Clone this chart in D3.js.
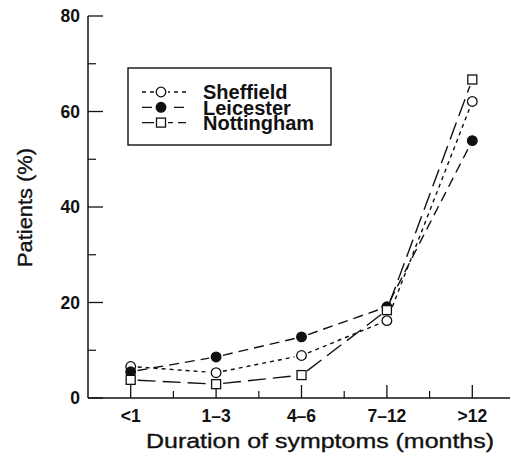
<!DOCTYPE html>
<html>
<head>
<meta charset="utf-8">
<script src="https://cdn.jsdelivr.net/npm/d3@7"></script>
<style>
  body { margin: 0; background: #fff; }
  svg { display: block; font-family: "Liberation Sans", Arial, sans-serif; }
  .tick-label { font-size: 17.5px; font-weight: bold; fill: #111; }
  .title { font-size: 20.5px; fill: #111; stroke: #111; stroke-width: 0.35px; }
  .legend-text { font-size: 20px; font-weight: bold; fill: #111; }
</style>
</head>
<body>
<svg width="511" height="457"></svg>
<script>
var categories = ["<1", "1\u20133", "4\u20136", "7\u201312", ">12"];
var yTicks = [0, 20, 40, 60, 80];
var yMinor = [10, 30, 50, 70];

var sheffield = [6.6, 5.3, 8.9, 16.2, 62.1];
var leicester = [5.5, 8.6, 12.8, 19.1, 53.9];
var nottingham = [3.8, 2.9, 4.8, 18.4, 66.7];

var series = [
    { name: "Sheffield", values: sheffield, marker: "circle", fill: "#fff", dash: "4,4", legendDash: "4,4" },
    { name: "Leicester", values: leicester, marker: "circle", fill: "#111", dash: "10,6", legendDash: "10,6" },
    { name: "Nottingham", values: nottingham, marker: "square", fill: "#fff", dash: "18,7", legendDash: "13,5" }
];

var svg = d3.select("svg"),
    plotLeft = 88, plotRight = 515, plotTop = 16, plotBottom = 398;

var x = d3.scaleBand().domain(categories).range([plotLeft, plotRight]),
    y = d3.scaleLinear().domain([0, 80]).range([plotBottom, plotTop]);

function cx(c) { return x(c) + x.bandwidth() / 2; }

// axes lines
svg.append("line").attr("x1", plotLeft).attr("x2", plotLeft).attr("y1", plotTop).attr("y2", plotBottom)
    .attr("stroke", "#111").attr("stroke-width", 1.5);
svg.append("line").attr("x1", plotLeft).attr("x2", 510).attr("y1", plotBottom).attr("y2", plotBottom)
    .attr("stroke", "#111").attr("stroke-width", 1.5);

// y ticks (pointing inward)
svg.selectAll(".ymaj").data(yTicks).enter().append("line")
    .attr("x1", plotLeft).attr("x2", plotLeft + 15)
    .attr("y1", function(d) { return y(d); }).attr("y2", function(d) { return y(d); })
    .attr("stroke", "#111").attr("stroke-width", 1.3);
svg.selectAll(".ymin").data(yMinor).enter().append("line")
    .attr("x1", plotLeft).attr("x2", plotLeft + 8)
    .attr("y1", function(d) { return y(d); }).attr("y2", function(d) { return y(d); })
    .attr("stroke", "#111").attr("stroke-width", 1.2);
svg.selectAll(".ylab").data(yTicks).enter().append("text")
    .attr("class", "tick-label")
    .attr("x", plotLeft - 8).attr("y", function(d) { return y(d); })
    .attr("dy", "0.36em").attr("text-anchor", "end")
    .text(function(d) { return d; });

// x ticks (pointing up)
svg.selectAll(".xmaj").data(categories).enter().append("line")
    .attr("x1", cx).attr("x2", cx).attr("y1", plotBottom).attr("y2", plotBottom - 13)
    .attr("stroke", "#111").attr("stroke-width", 1.3);
svg.selectAll(".xmin").data(categories.slice(1)).enter().append("line")
    .attr("x1", function(d) { return x(d); }).attr("x2", function(d) { return x(d); })
    .attr("y1", plotBottom).attr("y2", plotBottom - 7)
    .attr("stroke", "#111").attr("stroke-width", 1.2);
svg.selectAll(".xlab").data(categories).enter().append("text")
    .attr("class", "tick-label")
    .attr("x", cx).attr("y", plotBottom + 24)
    .attr("text-anchor", "middle")
    .text(function(d) { return d; });

// titles
svg.append("text").attr("class", "title")
    .attr("x", 146).attr("y", 448)
    .attr("textLength", 348).attr("lengthAdjust", "spacingAndGlyphs")
    .text("Duration of symptoms (months)");
svg.append("text").attr("class", "title")
    .attr("transform", "translate(32,267) rotate(-90)")
    .attr("textLength", 119).attr("lengthAdjust", "spacingAndGlyphs")
    .text("Patients (%)");

// lines drawn as segments with small gaps around markers
var line = d3.line();
var gap = 7;
series.forEach(function(s) {
    var pts = s.values.map(function(v, i) { return [cx(categories[i]), y(v)]; });
    for (var i = 0; i < pts.length - 1; i++) {
        var a = pts[i], b = pts[i + 1],
            dx = b[0] - a[0], dy = b[1] - a[1], len = Math.sqrt(dx * dx + dy * dy),
            ux = dx / len, uy = dy / len;
        svg.append("path")
            .attr("d", line([[a[0] + ux * gap, a[1] + uy * gap], [b[0] - ux * gap, b[1] - uy * gap]]))
            .attr("fill", "none").attr("stroke", "#111").attr("stroke-width", 1.4)
            .attr("stroke-dasharray", s.dash);
    }
});

function drawMarker(sel, s, px, py) {
    if (s.marker === "square") {
        sel.append("rect").attr("x", px - 4.5).attr("y", py - 4.5).attr("width", 9).attr("height", 9)
            .attr("fill", s.fill).attr("stroke", "#111").attr("stroke-width", 1.3);
    } else {
        sel.append("circle").attr("cx", px).attr("cy", py).attr("r", 4.8)
            .attr("fill", s.fill).attr("stroke", "#111").attr("stroke-width", 1.3);
    }
}

series.forEach(function(s) {
    s.values.forEach(function(v, i) { drawMarker(svg, s, cx(categories[i]), y(v)); });
});

// legend
var lg = svg.append("g");
lg.append("rect").attr("x", 128).attr("y", 68).attr("width", 203).attr("height", 77)
    .attr("fill", "#fff").attr("stroke", "#111").attr("stroke-width", 1.4);
series.forEach(function(s, i) {
    var ry = 92 + i * 15.3;
    lg.append("line").attr("x1", 142).attr("x2", 186).attr("y1", ry).attr("y2", ry)
        .attr("stroke", "#111").attr("stroke-width", 1.3).attr("stroke-dasharray", s.legendDash);
    lg.append("rect").attr("x", 154).attr("y", ry - 6).attr("width", 14).attr("height", 12).attr("fill", "#fff");
    drawMarker(lg, s, 161, ry);
    lg.append("text").attr("class", "legend-text")
        .attr("x", 203).attr("y", ry).attr("dy", "0.36em")
        .text(s.name);
});
</script>
</body>
</html>
